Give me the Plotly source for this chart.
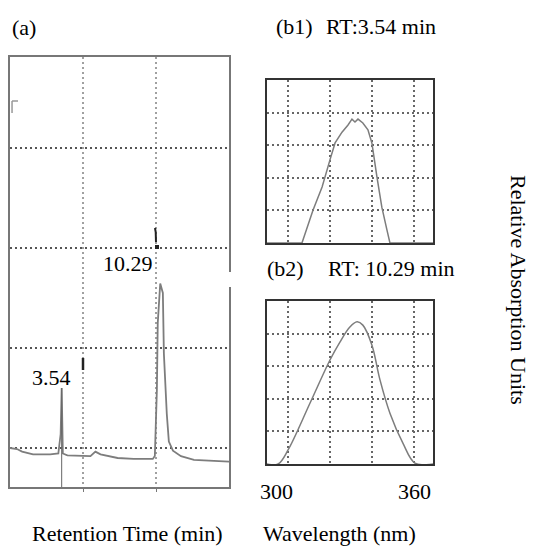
import plotly.graph_objects as go

W, H = 534, 549

# Chromatogram (a): retention time vs detector signal
rt_min = [0, 0.48, 0.83, 1.58, 2.75, 3.31, 3.47, 3.54, 3.62, 3.93, 5.51, 5.85, 6.20,
          7.37, 8.47, 9.78, 9.92, 10.06, 10.12, 10.29, 10.47, 10.54, 10.74, 10.88,
          11.16, 11.71, 12.60, 13.57, 15.0]
signal = [0, -1, -3.6, -6.4, -6.4, -5.5, 14, 60, -5.5, -7.3, -8.2, -3.6, -6.4,
          -10, -10.9, -10.9, -8, 58, 125, 164.5, 155, 94.5, 34, 6.4,
          -2.7, -8.2, -11.8, -12.7, -13.6]
peak_rt = [3.54, 10.29]
peak_height = [60, 164.5]

# UV spectra of the two peaks (b1, b2)
b1_nm = [296, 311.2, 316.0, 319.9, 323.3, 325.5, 328.5, 331.1, 332.8, 334.1, 335.4,
         337.5, 339.7, 341.4, 343.6, 345.7, 347.9, 349.2, 368]
b1_abs = [0, 0, 1.01, 1.72, 2.55, 3.07, 3.40, 3.62, 3.80, 3.71, 3.80,
          3.68, 3.47, 3.07, 2.02, 1.10, 0.40, 0, 0]
b2_nm = [296, 300.9, 305.2, 314.7, 323.3, 327.6, 331.9, 335.0, 337.5, 341.4, 344.9,
         349.2, 354.8, 360.0, 368]
b2_abs = [0, 0, 0.43, 1.87, 3.19, 3.74, 4.20, 4.36, 4.26, 3.65, 2.58,
          1.56, 0.64, 0.03, 0]
wl_labels = [300, 360]

SERIF = "Liberation Serif, Times New Roman, serif"
LINE = "#7d7d7d"


def px(x):
    return x / W


def py(y):
    return 1 - y / H


fig = go.Figure()

fig.add_trace(go.Scatter(x=rt_min, y=signal, mode="lines",
                         line=dict(color=LINE, width=1.8), xaxis="x", yaxis="y"))
# peak marker for the first peak
fig.add_trace(go.Scatter(x=[peak_rt[0], peak_rt[0]], y=[peak_height[0], -39],
                         mode="lines", line=dict(color="#666", width=1),
                         xaxis="x", yaxis="y"))
fig.add_trace(go.Scatter(x=[peak_rt[0]], y=[-46], mode="markers",
                         marker=dict(symbol="square", size=7, color="#333"),
                         cliponaxis=False, xaxis="x", yaxis="y"))
# integration ticks
fig.add_trace(go.Scatter(x=[5.0, 5.0], y=[78, 90], mode="lines",
                         line=dict(color="#222", width=2.5), xaxis="x", yaxis="y"))
fig.add_trace(go.Scatter(x=[9.93, 9.98, 10.0], y=[220, 216, 206], mode="lines",
                         line=dict(color="#222", width=2), xaxis="x", yaxis="y"))
fig.add_trace(go.Scatter(x=[10.07], y=[201], mode="markers",
                         marker=dict(symbol="square", size=4, color="#222"),
                         xaxis="x", yaxis="y"))

fig.add_trace(go.Scatter(x=b1_nm, y=b1_abs, mode="lines",
                         line=dict(color=LINE, width=1.5), xaxis="x2", yaxis="y2"))
fig.add_trace(go.Scatter(x=b2_nm, y=b2_abs, mode="lines", line_shape="spline",
                         line=dict(color=LINE, width=1.5), xaxis="x3", yaxis="y3"))

dash = "2px,3px"
ax_a = dict(showline=True, mirror=True, linecolor="#777", linewidth=2,
            zeroline=False, showticklabels=False, griddash=dash, gridwidth=1.6)
ax_b = dict(showline=True, mirror=True, linecolor="#333", linewidth=2,
            zeroline=False, showticklabels=False, griddash=dash, gridwidth=1.6,
            gridcolor="#666")

fig.update_layout(
    width=W, height=H, margin=dict(l=0, r=0, t=0, b=0),
    paper_bgcolor="white", plot_bgcolor="white", showlegend=False,
    xaxis=dict(ax_a, domain=[px(10), px(229)], range=[0, 15], tickvals=[5, 10],
               gridcolor="#a0a0a0", ticks="outside", ticklen=3, tickcolor="#777",
               anchor="y"),
    yaxis=dict(ax_a, domain=[py(487), py(57)], range=[-39, 391],
               tickvals=[0, 100, 200, 300], gridcolor="#555", anchor="x"),
    xaxis2=dict(ax_b, domain=[px(267), px(433)], range=[296.1, 367.8],
                tickvals=[305.2, 323.3, 341.4, 359.5], anchor="y2"),
    yaxis2=dict(ax_b, domain=[py(243), py(80)], range=[0, 5],
                tickvals=[1, 2, 3, 4], anchor="x2"),
    xaxis3=dict(ax_b, domain=[px(267), px(433)], range=[296.1, 367.8],
                tickvals=[305.2, 323.3, 341.4, 359.5], anchor="y3"),
    yaxis3=dict(ax_b, domain=[py(464), py(301)], range=[0, 5],
                tickvals=[1, 2, 3, 4], anchor="x3"),
)

# small breaks in the frame and grid of the chromatogram
shapes = [
    dict(type="rect", xref="paper", yref="paper", x0=px(225), x1=px(233),
         y0=py(287), y1=py(272), fillcolor="white", line_width=0, layer="above"),
    dict(type="rect", xref="paper", yref="paper", x0=px(87), x1=px(100),
         y0=py(226), y1=py(220), fillcolor="white", line_width=0, layer="below"),
    dict(type="rect", xref="paper", yref="paper", x0=px(84), x1=px(92),
         y0=py(336), y1=py(330), fillcolor="white", line_width=0, layer="below"),
    dict(type="line", xref="x", yref="y", x0=0.14, x1=0.14, y0=347, y1=335,
         line=dict(color="#999", width=1.5)),
    dict(type="line", xref="x", yref="y", x0=0.14, x1=0.55, y0=347, y1=347,
         line=dict(color="#999", width=1.5)),
]
fig.update_layout(shapes=shapes)

font = dict(family=SERIF, size=22, color="black")
ann = []


def text(s, x, y, **kw):
    d = dict(text=s, x=px(x), y=py(y), xref="paper", yref="paper",
             showarrow=False, xanchor="center", yanchor="middle", font=font)
    d.update(kw)
    ann.append(d)


text("(a)", 24, 27)
text("(b1)", 294, 26)
text("RT:3.54 min", 381, 26)
text("(b2)", 285, 268)
text("RT: 10.29 min", 391, 268)
text("Retention Time (min)", 127, 533)
text("Wavelength (nm)", 339, 533)
text("Relative Absorption Units", 519, 290, textangle=90)

# peak labels
ann.append(dict(text=f"{peak_rt[0]:.2f}", x=peak_rt[0], y=71, xref="x", yref="y",
                xshift=-10, showarrow=False, font=font))
ann.append(dict(text=f"{peak_rt[1]:.2f}", x=peak_rt[1], y=184.5, xref="x", yref="y",
                xshift=-32, showarrow=False, font=font))

# wavelength labels under the second spectrum
for wl in wl_labels:
    ann.append(dict(text=str(wl), x=wl, y=py(491), xref="x3", yref="paper",
                    showarrow=False, yanchor="middle", font=font))

fig.update_layout(annotations=ann)

fig.write_html("out.html")
